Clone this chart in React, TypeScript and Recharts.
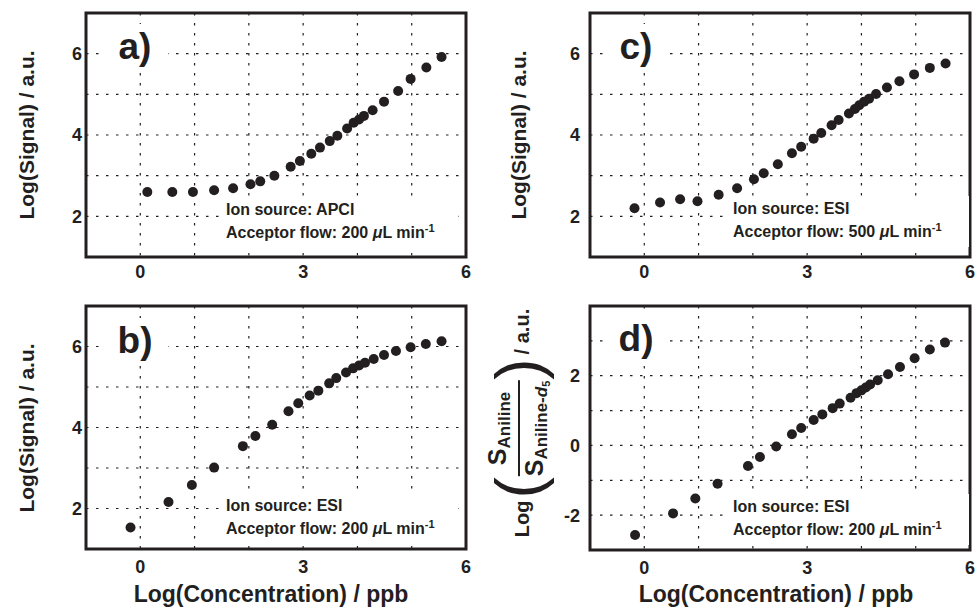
import {
  ScatterChart,
  Scatter,
  XAxis,
  YAxis,
  CartesianGrid,
  ReferenceArea
} from 'recharts';

const concA = [0.13, 0.59, 0.97, 1.36, 1.71, 2.03, 2.21, 2.47, 2.77, 2.94, 3.15, 3.31, 3.49, 3.63, 3.81, 3.93, 4.03, 4.12, 4.28, 4.49, 4.75, 4.98, 5.27, 5.55];
const signalA = [2.6, 2.6, 2.6, 2.64, 2.69, 2.79, 2.86, 3.0, 3.22, 3.36, 3.54, 3.69, 3.85, 3.98, 4.16, 4.3, 4.38, 4.47, 4.61, 4.82, 5.08, 5.38, 5.66, 5.92];

const concB = [-0.18, 0.52, 0.95, 1.36, 1.89, 2.12, 2.43, 2.73, 2.91, 3.12, 3.28, 3.48, 3.61, 3.79, 3.92, 4.03, 4.14, 4.3, 4.49, 4.71, 4.98, 5.26, 5.55];
const signalB = [1.53, 2.16, 2.58, 3.01, 3.54, 3.79, 4.07, 4.4, 4.6, 4.79, 4.91, 5.09, 5.22, 5.36, 5.46, 5.53, 5.6, 5.69, 5.79, 5.89, 5.98, 6.06, 6.13];

const concC = [-0.18, 0.29, 0.66, 0.98, 1.37, 1.71, 2.02, 2.2, 2.46, 2.72, 2.89, 3.12, 3.26, 3.45, 3.58, 3.77, 3.88, 3.96, 4.05, 4.14, 4.27, 4.47, 4.7, 4.97, 5.26, 5.55];
const signalC = [2.2, 2.34, 2.42, 2.37, 2.53, 2.69, 2.91, 3.06, 3.28, 3.55, 3.71, 3.91, 4.05, 4.24, 4.37, 4.53, 4.64, 4.73, 4.82, 4.89, 5.01, 5.17, 5.32, 5.49, 5.65, 5.76];

const concD = [-0.17, 0.53, 0.94, 1.35, 1.91, 2.13, 2.43, 2.72, 2.89, 3.12, 3.28, 3.47, 3.6, 3.8, 3.91, 4.0, 4.08, 4.16, 4.3, 4.49, 4.71, 4.98, 5.26, 5.54];
const ratioD = [-2.57, -1.95, -1.52, -1.1, -0.59, -0.33, -0.03, 0.32, 0.5, 0.73, 0.89, 1.07, 1.2, 1.37, 1.5, 1.58, 1.66, 1.75, 1.87, 2.04, 2.25, 2.5, 2.75, 2.95];

// axis ticks: labelled ones and the dotted grid (every unit)
const xLabels = [0, 3, 6];
const xGrid = [-1, 0, 1, 2, 3, 4, 5, 6];
const signalLabels = [2, 4, 6];
const signalGrid = [1, 2, 3, 4, 5, 6, 7];
const ratioLabels = [-2, 0, 2];
const ratioGrid = [-3, -2, -1, 0, 1, 2, 3, 4];

const FONT = '"Liberation Sans", Arial, Helvetica, sans-serif';
const INK = '#231f20';

const toPoints = (xs: number[], ys: number[]) => xs.map((x, i) => ({ x, y: ys[i] }));

const Dot = (p: any) => <circle cx={p.cx} cy={p.cy} r={5} fill={INK} />;
const NoDot = () => <g />;

function Panel(props: any) {
  const { box, data, yDomain, yLabels, yGrid, yGap, xGap } = props;
  const tickStyle = { fontSize: 18, fontWeight: 700, fill: INK, fontFamily: FONT };
  const inward = { stroke: INK, strokeWidth: 1.3 };
  const onlyX = (v: number) => (xLabels.includes(v) ? String(v) : '');
  const onlyY = (v: number) => (yLabels.includes(v) ? String(v) : '');
  return (
    <div style={{ position: 'absolute', left: box.left, top: box.top }}>
      <ScatterChart
        width={box.width}
        height={box.height}
        margin={{ top: box.mt, right: box.mr, bottom: 0, left: 0 }}
      >
        <CartesianGrid stroke={INK} strokeWidth={1.2} strokeDasharray="2.5 7.5" />
        <XAxis
          type="number"
          dataKey="x"
          domain={[-1, 6]}
          ticks={xGrid}
          interval={0}
          tickFormatter={onlyX}
          height={box.xh}
          axisLine={false}
          tickLine={false}
          tickSize={0}
          tickMargin={xGap}
          tick={tickStyle}
        />
        <YAxis
          type="number"
          dataKey="y"
          domain={yDomain}
          ticks={yGrid}
          interval={0}
          tickFormatter={onlyY}
          width={box.yw}
          axisLine={false}
          tickLine={false}
          tickSize={0}
          tickMargin={yGap}
          tick={tickStyle}
        />
        {/* mirrored axes only for the short inward tick marks */}
        <XAxis xAxisId="bm" type="number" dataKey="x" domain={[-1, 6]} ticks={xGrid} interval={0}
          mirror height={0} axisLine={false} tick={false} tickSize={5} tickLine={inward} />
        <YAxis yAxisId="lm" type="number" dataKey="y" domain={yDomain} ticks={yGrid} interval={0}
          mirror width={0} axisLine={false} tick={false} tickSize={5} tickLine={inward} />
        <XAxis xAxisId="top" orientation="top" type="number" dataKey="x" domain={[-1, 6]} ticks={xGrid} interval={0}
          mirror height={0} axisLine={false} tick={false} tickSize={5} tickLine={inward} />
        <YAxis yAxisId="right" orientation="right" type="number" dataKey="y" domain={yDomain} ticks={yGrid} interval={0}
          mirror width={0} axisLine={false} tick={false} tickSize={5} tickLine={inward} />
        <ReferenceArea
          x1={-1}
          x2={6}
          y1={yDomain[0]}
          y2={yDomain[1]}
          fill="none"
          stroke={INK}
          strokeWidth={3}
          ifOverflow="visible"
        />
        <Scatter data={data} xAxisId="bm" yAxisId="lm" shape={NoDot} isAnimationActive={false} />
        <Scatter data={data} xAxisId="top" yAxisId="right" shape={NoDot} isAnimationActive={false} />
        <Scatter data={data} shape={Dot} isAnimationActive={false} />
      </ScatterChart>
    </div>
  );
}

function Letter({ left, top, text }: any) {
  return (
    <div
      style={{
        position: 'absolute',
        left,
        top,
        width: 66,
        height: 46,
        background: '#fff',
        fontSize: 37,
        fontWeight: 700,
        lineHeight: '46px',
        textAlign: 'center',
        color: INK
      }}
    >
      {text}
    </div>
  );
}

function Note({ left, top, width, source, flow }: any) {
  return (
    <div
      style={{
        position: 'absolute',
        left,
        top,
        width,
        background: '#fff',
        padding: '3px 0 6px 7px',
        fontSize: 16,
        fontWeight: 700,
        lineHeight: '19px',
        color: INK,
        whiteSpace: 'nowrap'
      }}
    >
      <div>Ion source: {source}</div>
      <div>
        Acceptor flow: {flow} <i>μ</i>L min
        <sup style={{ fontSize: 11, verticalAlign: 6 }}>-1</sup>
      </div>
    </div>
  );
}

function VTitle({ cx, cy, children }: any) {
  return (
    <div
      style={{
        position: 'absolute',
        left: cx,
        top: cy,
        transform: 'translate(-50%, -50%) rotate(-90deg)',
        whiteSpace: 'nowrap',
        fontSize: 21,
        fontWeight: 700,
        color: INK,
        display: 'flex',
        alignItems: 'center'
      }}
    >
      {children}
    </div>
  );
}

function XTitle({ cx, top }: any) {
  return (
    <div
      style={{
        position: 'absolute',
        left: cx,
        top,
        transform: 'translateX(-50%)',
        whiteSpace: 'nowrap',
        fontSize: 23,
        fontWeight: 700,
        color: INK,
        lineHeight: '24px'
      }}
    >
      Log(Concentration) / ppb
    </div>
  );
}

export default function App() {
  return (
    <div
      style={{
        position: 'absolute',
        left: 0,
        top: 0,
        width: 976,
        height: 607,
        background: '#fff',
        fontFamily: FONT,
        overflow: 'hidden'
      }}
    >
      <Panel
        box={{ left: 0, top: 0, width: 480, height: 300, mt: 13, mr: 14, yw: 86, xh: 43 }}
        data={toPoints(concA, signalA)}
        yDomain={[1, 7]}
        yLabels={signalLabels}
        yGrid={signalGrid}
        yGap={4}
        xGap={8}
      />
      <Panel
        box={{ left: 0, top: 290, width: 480, height: 317, mt: 16, mr: 14, yw: 86, xh: 58 }}
        data={toPoints(concB, signalB)}
        yDomain={[1, 7]}
        yLabels={signalLabels}
        yGrid={signalGrid}
        yGap={4}
        xGap={11}
      />
      <Panel
        box={{ left: 490, top: 0, width: 486, height: 300, mt: 13, mr: 6, yw: 100, xh: 43 }}
        data={toPoints(concC, signalC)}
        yDomain={[1, 7]}
        yLabels={signalLabels}
        yGrid={signalGrid}
        yGap={10}
        xGap={8}
      />
      <Panel
        box={{ left: 490, top: 290, width: 486, height: 317, mt: 16, mr: 6, yw: 100, xh: 57 }}
        data={toPoints(concD, ratioD)}
        yDomain={[-3, 4]}
        yLabels={ratioLabels}
        yGrid={ratioGrid}
        yGap={10}
        xGap={11}
      />

      <Letter left={102} top={24} text="a)" />
      <Letter left={102} top={318} text="b)" />
      <Letter left={603} top={24} text="c)" />
      <Letter left={603} top={316} text="d)" />

      <Note left={219} top={197} width={232} source="APCI" flow="200" />
      <Note left={219} top={493} width={232} source="ESI" flow="200" />
      <Note left={726} top={196} width={236} source="ESI" flow="500" />
      <Note left={726} top={494} width={236} source="ESI" flow="200" />

      <VTitle cx={27} cy={135}>Log(Signal) / a.u.</VTitle>
      <VTitle cx={27} cy={428}>Log(Signal) / a.u.</VTitle>
      <VTitle cx={519} cy={135}>Log(Signal) / a.u.</VTitle>
      <VTitle cx={522} cy={423}>
        <span style={{ fontSize: 20 }}>Log</span>
        <span style={{ fontSize: 64, fontWeight: 400, lineHeight: 1, margin: '0 1px 6px 2px' }}>(</span>
        <span style={{ display: 'inline-flex', flexDirection: 'column', alignItems: 'center' }}>
          <span style={{ fontSize: 25, lineHeight: '26px', borderBottom: `2px solid ${INK}`, padding: '0 2px', alignSelf: 'stretch', textAlign: 'center' }}>
            S<span style={{ fontSize: 17, verticalAlign: -4 }}>Aniline</span>
          </span>
          <span style={{ fontSize: 25, lineHeight: '28px' }}>
            S<span style={{ fontSize: 17, verticalAlign: -4 }}>Aniline-<i>d</i><span style={{ fontSize: 11, verticalAlign: -3 }}>5</span></span>
          </span>
        </span>
        <span style={{ fontSize: 64, fontWeight: 400, lineHeight: 1, margin: '0 4px 6px 1px' }}>)</span>
        <span style={{ fontSize: 20 }}>/ a.u.</span>
      </VTitle>

      <XTitle cx={271} top={582} />
      <XTitle cx={776} top={582} />
    </div>
  );
}
